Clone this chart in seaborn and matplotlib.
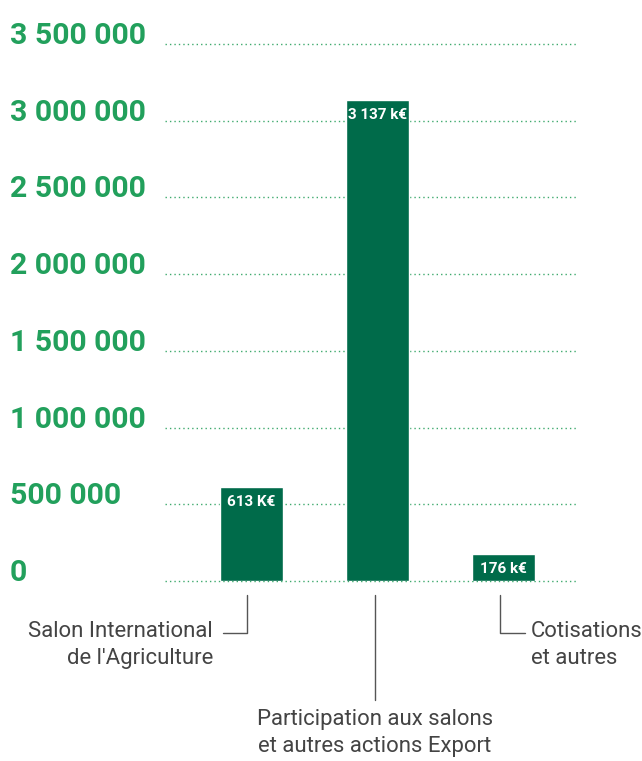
import matplotlib
matplotlib.use("Agg")
import matplotlib.pyplot as plt
import matplotlib.transforms as mtransforms
import seaborn as sns
import pandas as pd

# ---- data ----
categories = ["Salon International\nde l'Agriculture",
              "Participation aux salons\net autres actions Export",
              "Cotisations\net autres"]
values = [613000, 3137000, 176000]
value_labels = ["613 K€", "3 137 k€", "176 k€"]
yticks = [0, 500000, 1000000, 1500000, 2000000, 2500000, 3000000, 3500000]
ytick_labels = ["0", "500 000", "1 000 000", "1 500 000", "2 000 000",
                "2 500 000", "3 000 000", "3 500 000"]

BAR = "#006B4A"
TICK = "#22A05C"
GRID = "#3FAA6E"
TXT = "#444444"
LEAD = "#555555"

sns.set_theme(style="white")
plt.rcParams['font.family'] = ['Roboto', 'DejaVu Sans']

fig = plt.figure(figsize=(6.42, 7.61), dpi=100)
ax = fig.add_axes([165/642, (761-581)/761, (578-165)/642, (581-44)/761])

df = pd.DataFrame({"cat": categories, "val": values})
sns.barplot(data=df, x="cat", y="val", color=BAR, width=0.5, saturation=1,
            ax=ax, zorder=3)

ax.set_xlim(-0.687, 2.591)
ax.set_ylim(0, 3500000)
ax.set_xlabel("")
ax.set_ylabel("")
ax.set_xticks([])
for s in ax.spines.values():
    s.set_visible(False)

ax.set_yticks(yticks)
ax.set_yticklabels(ytick_labels)
ax.tick_params(axis='y', length=0, pad=111.6)
for lab in ax.get_yticklabels():
    lab.set_horizontalalignment('left')
    lab.set_verticalalignment('baseline')
    lab.set_fontsize(21.8)
    lab.set_fontweight('bold')
    lab.set_color(TICK)

ax.yaxis.grid(True, linestyle=(0, (1, 2.2)), color=GRID, linewidth=1.0, zorder=0)
ax.set_axisbelow(True)
for gl in ax.get_ygridlines():
    gl.set_clip_on(False)

# value labels in bars
for i, (v, t) in enumerate(zip(values, value_labels)):
    ax.annotate(t, (i, v), xytext=(0, -15), textcoords='offset pixels',
                ha='center', va='center', color='white', fontsize=11,
                fontweight='bold', zorder=5)

# leader lines and category labels
tr = mtransforms.blended_transform_factory(ax.transData, ax.transAxes)
def ay(p):
    return (581 - p) / 537.0

lw = 1.0
FS = 15.9
LS = 1.36
# label 1
ax.plot([-0.226, -0.036, -0.036], [ay(633), ay(633), ay(595)], color=LEAD,
        lw=lw, transform=tr, clip_on=False)
ax.text(-0.306, ay(621), categories[0], transform=tr, ha='right', va='top',
        fontsize=FS, color=TXT, linespacing=LS, multialignment='right')
# label 2
ax.plot([0.98, 0.98], [ay(595), ay(700)], color=LEAD, lw=lw, transform=tr,
        clip_on=False)
ax.text(0.98, ay(709), categories[1], transform=tr, ha='center', va='top',
        fontsize=FS, color=TXT, linespacing=LS, multialignment='center')
# label 3
ax.plot([1.972, 1.972, 2.171], [ay(595), ay(633), ay(633)], color=LEAD,
        lw=lw, transform=tr, clip_on=False)
ax.text(2.215, ay(621), categories[2], transform=tr, ha='left', va='top',
        fontsize=FS, color=TXT, linespacing=LS, multialignment='left')

fig.savefig("out.png", dpi=100)
